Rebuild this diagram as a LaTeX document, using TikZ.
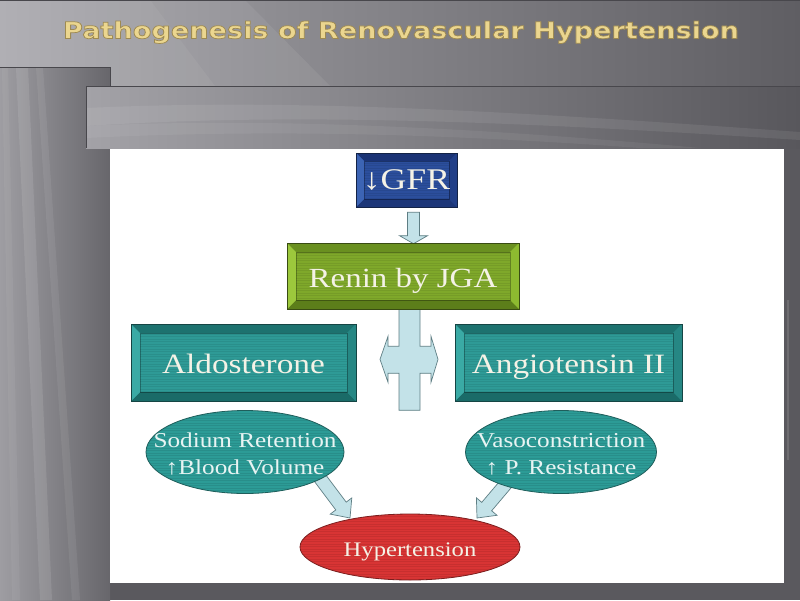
\documentclass[tikz,border=0pt]{standalone}
\usepackage{graphicx}
\usepackage{fontspec}
\setmainfont{Liberation Serif}
\newfontfamily\titlefont{DejaVu Sans}
\usetikzlibrary{shapes.geometric,calc}
\definecolor{bgdark}{HTML}{5A595E}
\definecolor{edgec}{HTML}{48474C}
\definecolor{topL}{HTML}{A6A5AA}
\definecolor{topR}{HTML}{5F5E63}
\definecolor{colL}{HTML}{9E9DA2}
\definecolor{colR}{HTML}{67666B}
\definecolor{bandL}{HTML}{A3A2A7}
\definecolor{bandR}{HTML}{58575C}
\definecolor{gfrface}{HTML}{2B4E9C}
\definecolor{gfrtop}{HTML}{1A3375}
\definecolor{gfrbot}{HTML}{1C3678}
\definecolor{gfrleft}{HTML}{3C64B4}
\definecolor{gfrright}{HTML}{213F88}
\definecolor{reninface}{HTML}{7FA82A}
\definecolor{renintop}{HTML}{6A9020}
\definecolor{reninbot}{HTML}{5C7E1A}
\definecolor{reninleft}{HTML}{9CC83C}
\definecolor{reninright}{HTML}{8DBA30}
\definecolor{tealface}{HTML}{2E9A96}
\definecolor{tealtop}{HTML}{1D726F}
\definecolor{tealbot}{HTML}{1A6B68}
\definecolor{tealleft}{HTML}{3AAAA5}
\definecolor{tealright}{HTML}{268784}
\definecolor{arrowfill}{HTML}{C3E2E8}
\definecolor{arrowline}{HTML}{5E7E84}
\definecolor{ellteal}{HTML}{2C9B96}
\definecolor{elltealline}{HTML}{1F5E5B}
\definecolor{hypred}{HTML}{D83434}
\definecolor{hypline}{HTML}{7A1E1E}
\definecolor{titlegold}{HTML}{EBD68F}
\definecolor{boxtext}{HTML}{F4F2E6}
\definecolor{elltext}{HTML}{E8F4F3}
\pgfdeclarelayer{bg}
\pgfdeclarelayer{arr}
\pgfsetlayers{bg,arr,main}
\tikzset{
  edge/.style={draw=edgec, line width=1pt},
  blockarr/.style={fill=arrowfill, draw=arrowline, line width=0.7pt, line join=miter},
  bevelbox/.style n args={6}{rectangle, inner sep=0pt, fill=#1, draw=#1!45!black,
    line width=0.6pt, text=boxtext, font=\fontsize{28}{32}\selectfont,
    path picture={
      \foreach \k in {1,...,40}
        \draw[black, opacity=0.07, line width=0.7pt]
          ([yshift=-\k*2.5pt]path picture bounding box.north west) --
          ([yshift=-\k*2.5pt]path picture bounding box.north east);
      \fill[#2] (path picture bounding box.north west) -- (path picture bounding box.north east)
        -- ([xshift=-#6,yshift=-#6]path picture bounding box.north east)
        -- ([xshift=#6,yshift=-#6]path picture bounding box.north west) -- cycle;
      \fill[#3] (path picture bounding box.south west) -- (path picture bounding box.south east)
        -- ([xshift=-#6,yshift=#6]path picture bounding box.south east)
        -- ([xshift=#6,yshift=#6]path picture bounding box.south west) -- cycle;
      \fill[#4] (path picture bounding box.north west) -- (path picture bounding box.south west)
        -- ([xshift=#6,yshift=#6]path picture bounding box.south west)
        -- ([xshift=#6,yshift=-#6]path picture bounding box.north west) -- cycle;
      \fill[#5] (path picture bounding box.north east) -- (path picture bounding box.south east)
        -- ([xshift=-#6,yshift=#6]path picture bounding box.south east)
        -- ([xshift=-#6,yshift=-#6]path picture bounding box.north east) -- cycle;
      \draw[black, opacity=0.3, line width=0.4pt]
        ([xshift=#6,yshift=-#6]path picture bounding box.north west) rectangle
        ([xshift=-#6,yshift=#6]path picture bounding box.south east);
    }},
  ellnode/.style n args={3}{ellipse, inner sep=0pt, fill=#1, draw=#2, line width=0.8pt,
    text=#3,
    path picture={
      \foreach \k in {1,...,36}
        \draw[black, opacity=0.08, line width=0.7pt]
          ([yshift=-\k*2.5pt]path picture bounding box.north west) --
          ([yshift=-\k*2.5pt]path picture bounding box.north east);
    }}
}
% text lowered by #1, zero-size box, widened like the slide
\newcommand\stx[2]{\raisebox{-#1}[0pt][0pt]{\makebox[0pt][c]{\scalebox{1.19}[1]{#2}}}}
\newcommand\twolines[2]{\begin{tabular}{@{}c@{}}#1\\#2\end{tabular}}
% block arrow: from, to, half shaft, half head, head length
\newcommand\blockarrow[5]{%
  \draw[blockarr] let \p1=#1, \p2=#2,
    \n1={veclen(\x2-\x1,\y2-\y1)}, \n2={(\x2-\x1)/\n1}, \n3={(\y2-\y1)/\n1} in
    ({\x1-(#3)*\n3*1pt},{\y1+(#3)*\n2*1pt}) --
    ({\x1+(#3)*\n3*1pt},{\y1-(#3)*\n2*1pt}) --
    ({\x2-(#5)*\n2*1pt+(#3)*\n3*1pt},{\y2-(#5)*\n3*1pt-(#3)*\n2*1pt}) --
    ({\x2-(#5)*\n2*1pt+(#4)*\n3*1pt},{\y2-(#5)*\n3*1pt-(#4)*\n2*1pt}) --
    (\p2) --
    ({\x2-(#5)*\n2*1pt-(#4)*\n3*1pt},{\y2-(#5)*\n3*1pt+(#4)*\n2*1pt}) --
    ({\x2-(#5)*\n2*1pt-(#3)*\n3*1pt},{\y2-(#5)*\n3*1pt+(#3)*\n2*1pt}) -- cycle;
}
\begin{document}
\begin{tikzpicture}[x=1pt,y=-1pt]
\useasboundingbox (0,0) rectangle (800,600);
\begin{pgfonlayer}{bg}
  \fill[bgdark] (0,0) rectangle (800,600);
  \shade[left color=topL, right color=topR] (0,0) rectangle (800,86);
  \fill[white, opacity=0.07] (0,0) -- (245,0) -- (330,86) -- (0,86) -- cycle;
  \fill[white, opacity=0.05] (0,0) -- (150,0) -- (215,86) -- (0,86) -- cycle;
  \draw[edge] (0,0.5) -- (800,0.5);
  \shade[left color=colL, right color=colR] (0,67) rectangle (110,600);
  \fill[white, opacity=0.10] (16,67) -- (28,67) -- (52,600) -- (40,600) -- cycle;
  \fill[white, opacity=0.07] (36,67) -- (43,67) -- (80,600) -- (72,600) -- cycle;
  \fill[white, opacity=0.05] (2,67) -- (8,67) -- (20,600) -- (12,600) -- cycle;
  \draw[edge] (0,67) -- (110,67) -- (110,86);
  \shade[left color=bandL, right color=bandR] (86,86) rectangle (800,148);
  \fill[white, opacity=0.08] (86,108) .. controls (300,98) and (520,112) .. (800,132)
    -- (800,140) .. controls (520,122) and (300,112) .. (86,126) -- cycle;
  \fill[white, opacity=0.06] (86,126) .. controls (250,118) and (450,125) .. (700,148)
    -- (640,148) .. controls (420,132) and (250,130) .. (86,138) -- cycle;
  \draw[edge] (86,148) -- (86,86) -- (800,86);
  \fill[white] (110,149) rectangle (784,583);
  \draw[white, opacity=0.12, line width=2pt] (788,300) -- (788,460);
\end{pgfonlayer}

% boxes
\node[bevelbox={gfrface}{gfrtop}{gfrbot}{gfrleft}{gfrright}{8pt},
      minimum width=101pt, minimum height=54pt, font=\fontsize{30}{32}\selectfont]
      (gfr) at (406.5,180) {\stx{9pt}{↓GFR}};
\node[bevelbox={reninface}{renintop}{reninbot}{reninleft}{reninright}{9pt},
      minimum width=232pt, minimum height=66pt, font=\fontsize{27.7}{32}\selectfont]
      (renin) at (403,276) {\stx{11.5pt}{Renin by JGA}};
\node[bevelbox={tealface}{tealtop}{tealbot}{tealleft}{tealright}{9pt},
      minimum width=225pt, minimum height=77pt]
      (aldo) at (243.5,362.5) {\stx{10.8pt}{Aldosterone}};
\node[bevelbox={tealface}{tealtop}{tealbot}{tealleft}{tealright}{9pt},
      minimum width=227pt, minimum height=77pt]
      (angio) at (568.5,362.5) {\stx{10.8pt}{Angiotensin II}};

% ellipses
\node[ellnode={ellteal}{elltealline}{elltext}, minimum width=198pt, minimum height=83pt,
      font=\fontsize{21.2}{27}\selectfont]
      (sod) at (245,452) {\stx{8.9pt}{\twolines{Sodium Retention}{↑Blood Volume}}};
\node[ellnode={ellteal}{elltealline}{elltext}, minimum width=191pt, minimum height=83pt,
      font=\fontsize{21.2}{27}\selectfont]
      (vaso) at (561,452) {\stx{8.9pt}{\twolines{Vasoconstriction}{↑ P. Resistance}}};
\node[ellnode={hypred}{hypline}{boxtext}, minimum width=220pt, minimum height=66pt,
      font=\fontsize{20.7}{27}\selectfont]
      (hyp) at (410,547) {\stx{9.4pt}{Hypertension}};

% connectors (behind nodes)
\begin{pgfonlayer}{arr}
  \blockarrow{($(gfr.south)+(7,5)$)}{($(renin.north)+(10.5,1)$)}{6}{14}{8}
  \coordinate (cx) at ($(renin.south)+(6.5,0)$);
  \draw[blockarr, shift={(cx)}]
    (-10.5,0) -- (10.5,0) -- (10.5,37) -- (21.5,37) -- (21.5,27) -- (28.5,50)
    -- (21.5,73) -- (21.5,64) -- (10.5,64) -- (10.5,101) -- (-10.5,101)
    -- (-10.5,64) -- (-21.5,64) -- (-21.5,73) -- (-29.5,50) -- (-21.5,27)
    -- (-21.5,37) -- (-10.5,37) -- cycle;
  \blockarrow{($(sod.center)+(69,18)$)}{($(hyp.center)+(-60,-29)$)}{6.5}{13.5}{15}
  \blockarrow{($(vaso.center)+(-45,20)$)}{($(hyp.center)+(67,-29)$)}{6.5}{13.5}{15}
\end{pgfonlayer}

% title
\node[text=titlegold, font=\titlefont\bfseries\fontsize{23}{27}\selectfont]
  (title) at (401,35)
  {\raisebox{-3.5pt}[0pt][0pt]{\makebox[0pt][c]{\scalebox{1.18}[1]{\special{pdf:literal direct 2 Tr 0.7 w 0.62 0.54 0.32 RG}Pathogenesis of Renovascular Hypertension\special{pdf:literal direct 0 Tr}}}}};
\end{tikzpicture}
\end{document}
